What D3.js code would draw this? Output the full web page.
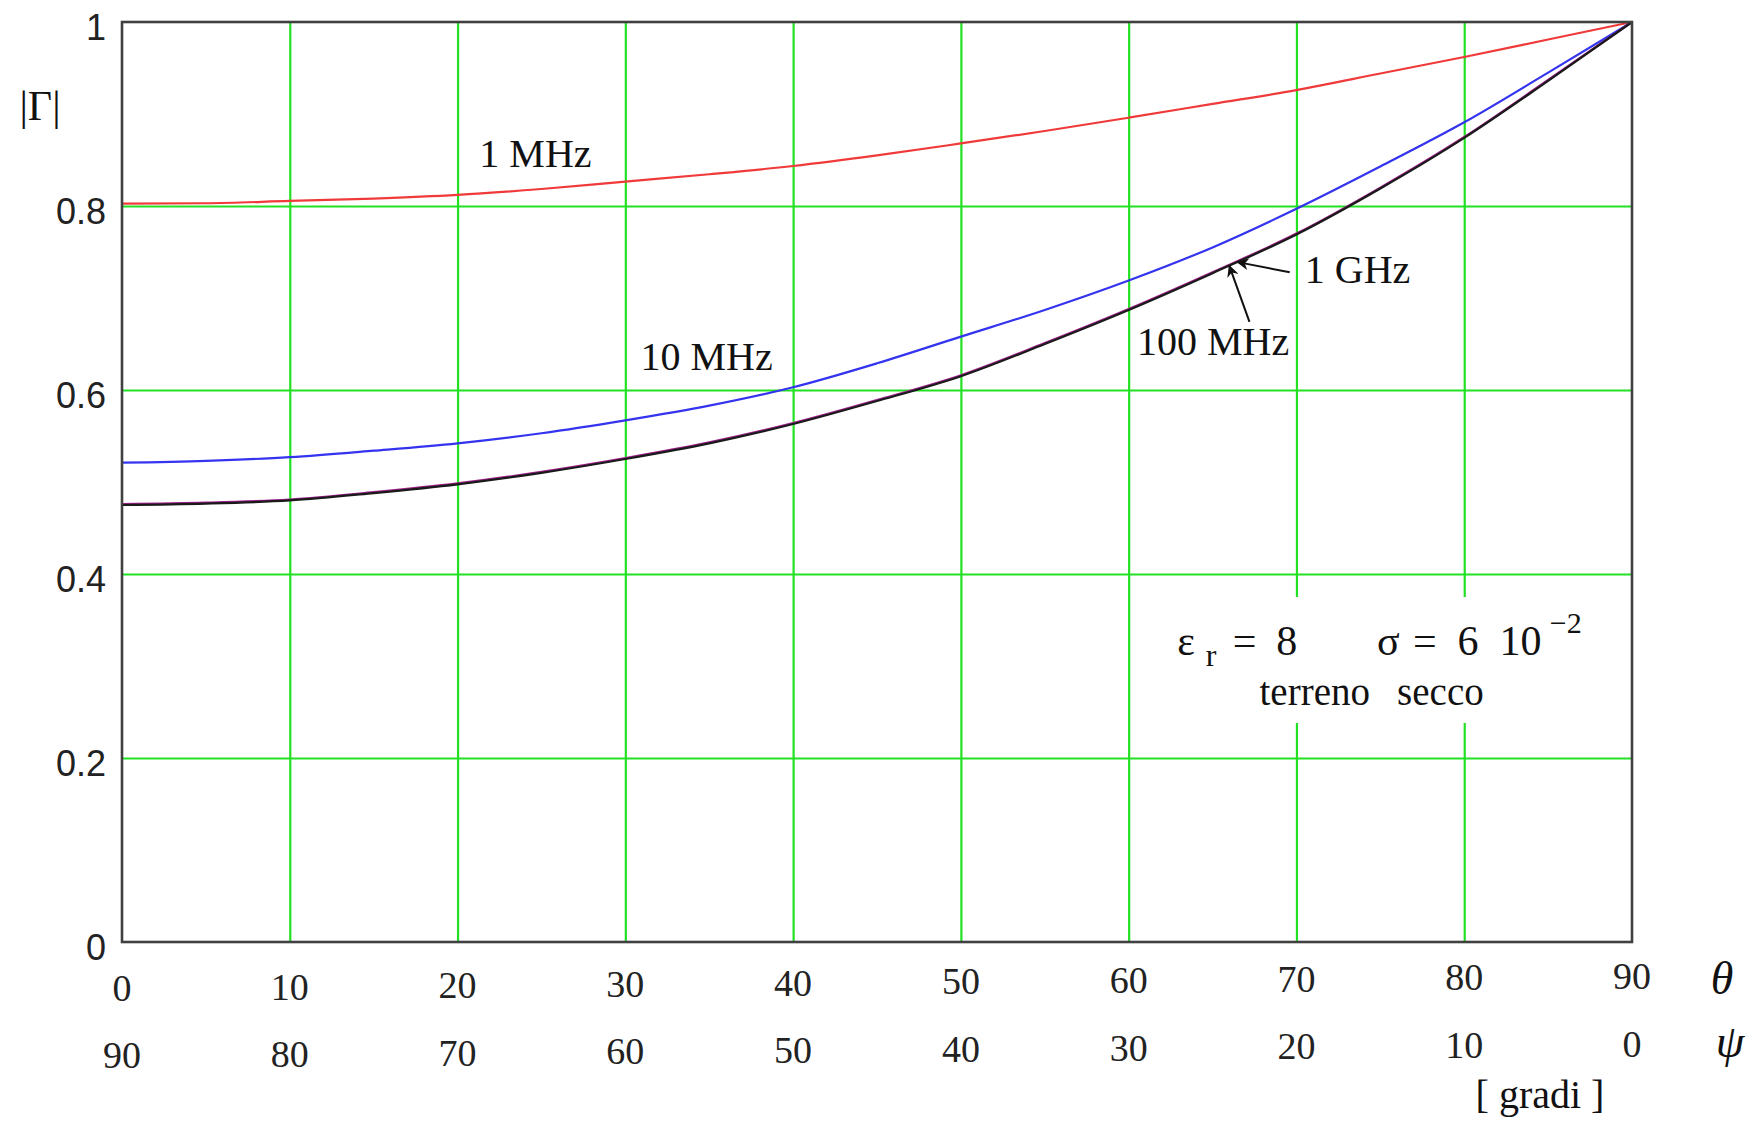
<!DOCTYPE html>
<html>
<head>
<meta charset="utf-8">
<script src="https://cdn.jsdelivr.net/npm/d3@7"></script>
<style>
  body { margin: 0; background: white; }
  svg { display: block; }
</style>
</head>
<body>
<div id="GraphHolder"></div>
<script>
// values: |Gamma| against theta (degrees)
var theta = [0, 5, 10, 15, 20, 25, 30, 35, 40, 45, 50, 55, 60, 65, 70, 75, 80, 85, 90];
var gamma1MHz = [0.8025, 0.803, 0.8055, 0.808, 0.812, 0.8185, 0.8265, 0.8345, 0.8435, 0.855,
                 0.868, 0.8815, 0.896, 0.911, 0.926, 0.944, 0.962, 0.981, 1.0];
var gamma10MHz = [0.521, 0.523, 0.527, 0.534, 0.542, 0.553, 0.567, 0.583, 0.603, 0.629,
                  0.658, 0.687, 0.719, 0.755, 0.797, 0.843, 0.891, 0.945, 1.0];
var gamma100MHz = [0.476, 0.4775, 0.481, 0.489, 0.4985, 0.511, 0.526, 0.543, 0.564, 0.589,
                   0.616, 0.651, 0.688, 0.728, 0.770, 0.820, 0.875, 0.937, 1.0];
var gamma1GHz = [0.475, 0.4765, 0.480, 0.488, 0.4975, 0.510, 0.525, 0.542, 0.563, 0.588,
                 0.615, 0.650, 0.687, 0.727, 0.769, 0.819, 0.874, 0.936, 1.0];

// tick labels
var thetaTicks = [0, 10, 20, 30, 40, 50, 60, 70, 80, 90];
var psiTicks = [90, 80, 70, 60, 50, 40, 30, 20, 10, 0];
var yTicks = [0, 0.2, 0.4, 0.6, 0.8, 1];
var yTickLabels = ["0", "0.2", "0.4", "0.6", "0.8", "1"];

// set the dimensions and margins of the graph
var margin = {top: 22, right: 131, bottom: 179, left: 122},
    width = 1763 - margin.left - margin.right,
    height = 1121 - margin.top - margin.bottom;

var svg = d3.select("#GraphHolder").append("svg")
    .attr("width", width + margin.left + margin.right)
    .attr("height", height + margin.top + margin.bottom)
    .style("background-color", "white")
    .append("g")
    .attr("transform", "translate(" + margin.left + "," + margin.top + ")");

var x = d3.scaleLinear().domain([0, 90]).range([0, width]);
var y = d3.scaleLinear().domain([0, 1]).range([height, 0]);

var serif = "'Liberation Serif', 'Times New Roman', serif";
var sans = "'Liberation Sans', Arial, sans-serif";
var gridColor = "#22e022";

// vertical grid lines
svg.append("g")
    .attr("class", "xgrid")
    .call(d3.axisBottom(x).tickValues(thetaTicks.slice(1, -1)).tickSize(height).tickFormat(""))
    .call(function(g) { g.select(".domain").remove(); })
    .selectAll("line")
    .attr("stroke", gridColor)
    .attr("stroke-width", 2.2);

// horizontal grid lines
svg.append("g")
    .attr("class", "ygrid")
    .call(d3.axisLeft(y).tickValues(yTicks.slice(1, -1)).tickSize(-width).tickFormat(""))
    .call(function(g) { g.select(".domain").remove(); })
    .selectAll("line")
    .attr("stroke", gridColor)
    .attr("stroke-width", 2.2);

// white box behind the soil parameters (grid is cut there)
svg.append("rect")
    .attr("x", x(62.2))
    .attr("y", y(0.375))
    .attr("width", x(88.1) - x(62.2))
    .attr("height", y(0.238) - y(0.375))
    .attr("fill", "white");

// curves
var series = [
    {name: "1 MHz", values: gamma1MHz, color: "#f03a3a", w: 2.2},
    {name: "10 MHz", values: gamma10MHz, color: "#3434f0", w: 2.2},
    {name: "100 MHz", values: gamma100MHz, color: "#a0208c", w: 2.2},
    {name: "1 GHz", values: gamma1GHz, color: "#1a1a1a", w: 2.2}
];

var line = d3.line()
    .x(function(d) { return x(d[0]); })
    .y(function(d) { return y(d[1]); })
    .curve(d3.curveMonotoneX);

svg.selectAll(".curve")
    .data(series)
    .enter().append("path")
    .attr("class", "curve")
    .attr("fill", "none")
    .attr("stroke", function(d) { return d.color; })
    .attr("stroke-width", function(d) { return d.w; })
    .attr("d", function(d) { return line(theta.map(function(t, i) { return [t, d.values[i]]; })); });

// frame
svg.append("rect")
    .attr("x", 0)
    .attr("y", 0)
    .attr("width", width)
    .attr("height", height)
    .attr("fill", "none")
    .attr("stroke", "#404040")
    .attr("stroke-width", 2.6);

// y tick labels
svg.selectAll(".ylabel")
    .data(yTicks)
    .enter().append("text")
    .attr("class", "ylabel")
    .attr("x", -16)
    .attr("y", function(d) { return y(d) + 18; })
    .attr("text-anchor", "end")
    .style("font-family", sans)
    .style("font-size", "36px")
    .style("fill", "#222")
    .text(function(d, i) { return yTickLabels[i]; });

// theta labels (first row) and psi labels (second row), slightly tilted as in the scan
svg.selectAll(".thlabel")
    .data(thetaTicks)
    .enter().append("text")
    .attr("class", "thlabel")
    .attr("x", function(d) { return x(d); })
    .attr("y", function(d) { return height + 59 - d * 0.135; })
    .attr("text-anchor", "middle")
    .style("font-family", serif)
    .style("font-size", "38px")
    .style("fill", "#222")
    .text(function(d) { return d; });

svg.selectAll(".psilabel")
    .data(psiTicks)
    .enter().append("text")
    .attr("class", "psilabel")
    .attr("x", function(d, i) { return x(thetaTicks[i]); })
    .attr("y", function(d, i) { return height + 126 - thetaTicks[i] * 0.125; })
    .attr("text-anchor", "middle")
    .style("font-family", serif)
    .style("font-size", "38px")
    .style("fill", "#222")
    .text(function(d) { return d; });

// axis symbols
svg.append("text")
    .attr("x", width + 90)
    .attr("y", height + 52)
    .attr("text-anchor", "middle")
    .style("font-family", serif)
    .style("font-style", "italic")
    .style("font-size", "46px")
    .style("fill", "#111")
    .text("θ");

svg.append("text")
    .attr("x", width + 98)
    .attr("y", height + 115)
    .attr("text-anchor", "middle")
    .style("font-family", serif)
    .style("font-style", "italic")
    .style("font-size", "46px")
    .style("fill", "#111")
    .text("ψ");

svg.append("text")
    .attr("x", width - 92)
    .attr("y", height + 166)
    .attr("text-anchor", "middle")
    .style("font-family", serif)
    .style("font-size", "40px")
    .style("fill", "#111")
    .text("[ gradi ]");

svg.append("text")
    .attr("x", -82)
    .attr("y", 98)
    .attr("text-anchor", "middle")
    .style("font-family", serif)
    .style("font-size", "42px")
    .style("fill", "#111")
    .text("|Γ|");

// curve labels (positions in data units)
var curveLabels = [
    {t: "1 MHz", th: 21.3, v: 0.842},
    {t: "10 MHz", th: 30.9, v: 0.622},
    {t: "100 MHz", th: 60.5, v: 0.638},
    {t: "1 GHz", th: 70.5, v: 0.716}
];

svg.selectAll(".clabel")
    .data(curveLabels)
    .enter().append("text")
    .attr("class", "clabel")
    .attr("x", function(d) { return x(d.th); })
    .attr("y", function(d) { return y(d.v); })
    .style("font-family", serif)
    .style("font-size", "40px")
    .style("fill", "#111")
    .text(function(d) { return d.t; });

// arrows pointing to the 1 GHz / 100 MHz curves
svg.append("defs").append("marker")
    .attr("id", "head")
    .attr("viewBox", "0 0 10 10")
    .attr("refX", 9)
    .attr("refY", 5)
    .attr("markerUnits", "userSpaceOnUse")
    .attr("markerWidth", 16)
    .attr("markerHeight", 12)
    .attr("orient", "auto")
    .append("path")
    .attr("d", "M0,0 L10,5 L0,10 L3,5 Z")
    .attr("fill", "#111");

var arrows = [
    {from: [69.6, 0.728], to: [66.5, 0.739]},
    {from: [67.2, 0.674], to: [66.0, 0.735]}
];

svg.selectAll(".arrow")
    .data(arrows)
    .enter().append("line")
    .attr("class", "arrow")
    .attr("x1", function(d) { return x(d.from[0]); })
    .attr("y1", function(d) { return y(d.from[1]); })
    .attr("x2", function(d) { return x(d.to[0]); })
    .attr("y2", function(d) { return y(d.to[1]); })
    .attr("stroke", "#111")
    .attr("stroke-width", 2)
    .attr("marker-end", "url(#head)");

// soil parameters
var paramText = [
    {t: "ε", th: 62.9, v: 0.312, size: 42},
    {t: "r", th: 64.6, v: 0.300, size: 32},
    {t: "=", th: 66.2, v: 0.312, size: 42},
    {t: "8", th: 68.8, v: 0.312, size: 42},
    {t: "σ", th: 74.8, v: 0.312, size: 42},
    {t: "=", th: 76.95, v: 0.312, size: 42},
    {t: "6", th: 79.6, v: 0.312, size: 42},
    {t: "10", th: 82.1, v: 0.312, size: 42},
    {t: "−2", th: 85.1, v: 0.336, size: 30},
    {t: "terreno", th: 67.8, v: 0.2576, size: 39},
    {t: "secco", th: 76.0, v: 0.2576, size: 39}
];

svg.selectAll(".param")
    .data(paramText)
    .enter().append("text")
    .attr("class", "param")
    .attr("x", function(d) { return x(d.th); })
    .attr("y", function(d) { return y(d.v); })
    .style("font-family", serif)
    .style("font-size", function(d) { return d.size + "px"; })
    .style("fill", "#111")
    .text(function(d) { return d.t; });
</script>
</body>
</html>
